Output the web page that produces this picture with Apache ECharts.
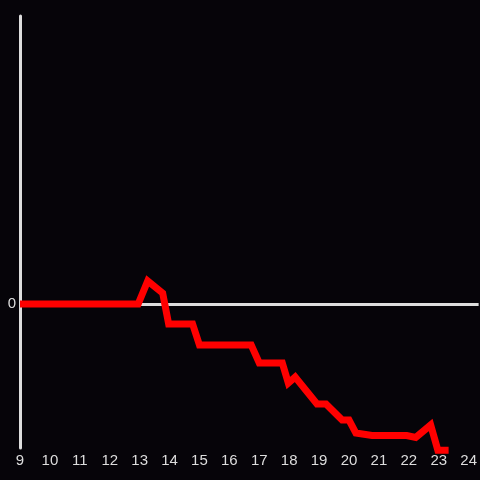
<!DOCTYPE html>
<html>
<head>
<meta charset="utf-8">
<script src="https://cdn.jsdelivr.net/npm/echarts@6/dist/echarts.min.js"></script>
<style>
  html, body { margin: 0; padding: 0; background: #060409; }
  #chart { width: 480px; height: 480px; }
</style>
</head>
<body>
<div id="chart"></div>
<script>
// x positions of the line's vertices
const xValues = [9, 12.95, 13.27, 13.77, 13.97, 14.77, 15.0, 16.73, 17.0, 17.77, 17.97, 18.2,
  18.93, 19.23, 19.77, 20.0, 20.23, 20.77, 21.93, 22.23, 22.73, 22.97, 23.33];
// y values of the line's vertices
const yValues = [0, 0, 16, 7.6, -13.9, -13.9, -28.5, -28.5, -41, -41, -54.9, -50.7,
  -69.4, -69.4, -80.6, -80.6, -89.6, -91.3, -91.3, -92.7, -84, -101.5, -101.5];
const yLabels = [0];

const chart = echarts.init(document.getElementById("chart"));

const option = {
  backgroundColor: "#060409",
  animation: false,
  grid: { left: 20, right: 0, top: 16, bottom: 32 },
  xAxis: {
    type: "value",
    min: 9,
    max: 9 + 460 / 30,
    interval: 1,
    axisLine: { show: false },
    axisTick: { show: false },
    splitLine: { show: false },
    axisLabel: {
      color: "#dddddd",
      fontSize: 15,
      margin: 5,
      fontFamily: "Liberation Sans",
    },
  },
  yAxis: {
    type: "value",
    min: -100,
    max: 200,
    interval: 100,
    axisLine: { show: true, onZero: false, lineStyle: { color: "#dddddd", width: 3 } },
    axisTick: { show: false },
    splitLine: { show: false },
    axisLabel: {
      color: "#dddddd",
      fontSize: 15,
      margin: 4,
      fontFamily: "Liberation Sans",
      formatter: (v) => (yLabels.includes(v) ? String(v) : ""),
    },
  },
  series: [
    {
      type: "line",
      data: xValues.map((x, i) => [x, yValues[i]]),
      symbol: "none",
      clip: false,
      z: 3,
      lineStyle: { color: "#ff0000", width: 7, join: "miter" },
      markLine: {
        silent: true,
        symbol: "none",
        label: { show: false },
        lineStyle: { color: "#dddddd", width: 3, type: "solid" },
        data: [{ yAxis: 0 }],
        z: 1,
      },
    },
  ],
};

chart.setOption(option);
</script>
</body>
</html>
